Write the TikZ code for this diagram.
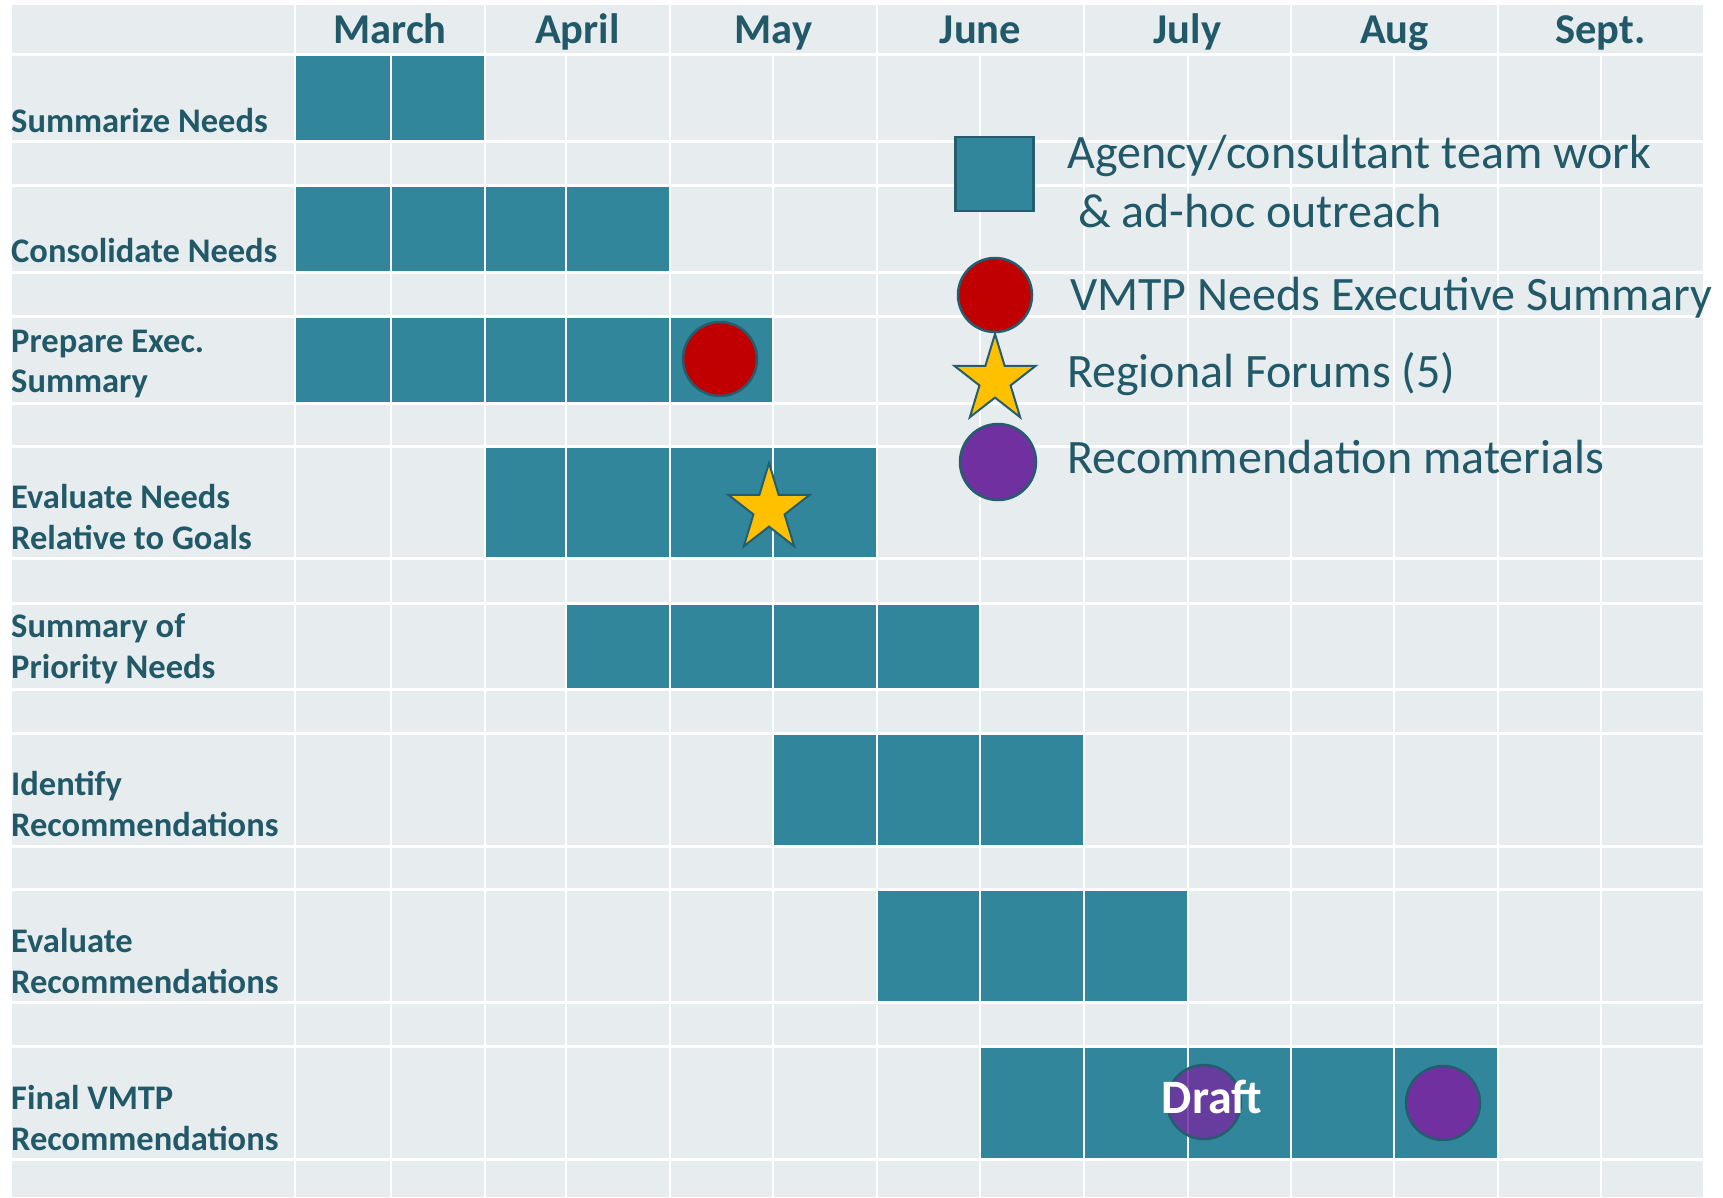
\documentclass[tikz,border=0pt]{standalone}
\usepackage{fontspec}
\setmainfont{Carlito}
\definecolor{gridbg}{HTML}{E7ECEE}
\definecolor{barteal}{HTML}{31869B}
\definecolor{txtteal}{HTML}{215968}
\definecolor{edgeteal}{HTML}{245E6E}
\definecolor{redmark}{HTML}{C00000}
\definecolor{purpmark}{HTML}{7030A0}
\definecolor{goldmark}{HTML}{FFC000}
\tikzset{
  bar/.style={fill=barteal},
  vline/.style={draw=white,line width=2.6pt},
  hline/.style={draw=white,line width=3pt},
  month/.style={text=txtteal,font=\fontsize{42.5}{50}\selectfont\bfseries,anchor=base,inner sep=0pt},
  rowlab/.style={text=txtteal,font=\fontsize{34.5}{40}\selectfont\bfseries,anchor=base west,inner sep=0pt},
  legtext/.style={text=txtteal,font=\fontsize{48}{56}\selectfont,anchor=base west,inner sep=0pt},
  dot/.style={circle,draw=edgeteal,line width=2.5pt,minimum size=74pt,inner sep=0pt},
  redm/.style={dot,fill=redmark},
  purpm/.style={dot,fill=purpmark},
  starm/.style={draw=edgeteal,line width=2pt,fill=goldmark,line join=miter},
  legsq/.style={draw=edgeteal,line width=2.6pt,fill=barteal,minimum width=78pt,minimum height=74pt,inner sep=0pt},
}
\newcommand{\starpath}{(270:46) -- (306:17.6) -- (342:46) -- (18:17.6) -- (54:46) -- (90:17.6) -- (126:46) -- (162:17.6) -- (198:46) -- (234:17.6) -- cycle}
\begin{document}
\begin{tikzpicture}[x=1pt,y=-1pt]
\useasboundingbox (0,0) rectangle (1723,1197);
\fill[gridbg] (12,5) rectangle (1703,1197);
% bars
\fill[bar] (295,54.5) rectangle (485,141);
\fill[bar] (295,185.5) rectangle (670,272);
\fill[bar] (295,316) rectangle (773,403);
\fill[bar] (485,446) rectangle (877,558.5);
\fill[bar] (566,603) rectangle (980,689.5);
\fill[bar] (773,733) rectangle (1084,846.5);
\fill[bar] (877,889.5) rectangle (1188,1002.5);
\fill[bar] (980,1046.5) rectangle (1498,1159.5);
% grid lines
\foreach \x in {295,485,670,877,1084,1291,1498}
  \draw[vline] (\x,5) -- (\x,1197);
\foreach \x in {391,566,773,980,1188,1394,1601}
  \draw[vline] (\x,55) -- (\x,1197);
\foreach \y in {54.5,141,185.5,272,316,403,446,558.5,603,689.5,733,846.5,889.5,1002.5,1046.5,1159.5}
  \draw[hline] (12,\y) -- (1703,\y);
% months
\node[month] (mmar) at (390,43) {March};
\node[month] (mapr) at (577.5,43) {April};
\node[month] (mmay) at (773.5,43) {May};
\node[month] (mjun) at (980.5,43) {June};
\node[month] (mjul) at (1187.5,43) {July};
\node[month] (maug) at (1394.5,43) {Aug};
\node[month] (msep) at (1600.5,43) {Sept.};
% row labels
\node[rowlab] (r1a) at (11,132) {Summarize Needs};
\node[rowlab] (r2a) at (11,262) {Consolidate Needs};
\node[rowlab] (r3a) at (11,352) {Prepare Exec.};
\node[rowlab] (r3b) at (11,392) {Summary};
\node[rowlab] (r4a) at (11,508) {Evaluate Needs};
\node[rowlab] (r4b) at (11,549) {Relative to Goals};
\node[rowlab] (r5a) at (11,637) {Summary of};
\node[rowlab] (r5b) at (11,678) {Priority Needs};
\node[rowlab] (r6a) at (11,795) {Identify};
\node[rowlab] (r6b) at (11,836) {Recommendations};
\node[rowlab] (r7a) at (11,952) {Evaluate};
\node[rowlab] (r7b) at (11,993) {Recommendations};
\node[rowlab] (r8a) at (11,1109) {Final VMTP};
\node[rowlab] (r8b) at (11,1150) {Recommendations};
% markers on chart
\node[redm] (exec) at (720,359) {};
\draw[starm,shift={(769,509)},xscale=0.93] \starpath;
\coordinate (forum) at (769,509);
\node[purpm,fill opacity=0.85] (draftdot) at (1204,1102) {};
\node[text=white,font=\fontsize{48}{56}\selectfont\bfseries,anchor=base,inner sep=0pt] (draft) at (1212,1113) {Draft};
\node[purpm] (final) at (1443,1103) {};
% legend
\node[legsq] (lsq) at (994.5,174) {};
\node[legtext] (lt1) at (1067,168) {Agency/consultant team work};
\node[legtext] (lt2) at (1067,227) {\ \& ad-hoc outreach};
\node[redm] (lred) at (995,295) {};
\node[legtext] (lt3) at (1070,310) {VMTP Needs Executive Summary};
\draw[starm,shift={(995,380)},xscale=0.93] \starpath;
\coordinate (lstar) at (995,380);
\node[legtext] (lt4) at (1067,387) {Regional Forums (5)};
\node[purpm,minimum size=76pt] (lpurp) at (998,462) {};
\node[legtext] (lt5) at (1067,473) {Recommendation materials};
\end{tikzpicture}
\end{document}
